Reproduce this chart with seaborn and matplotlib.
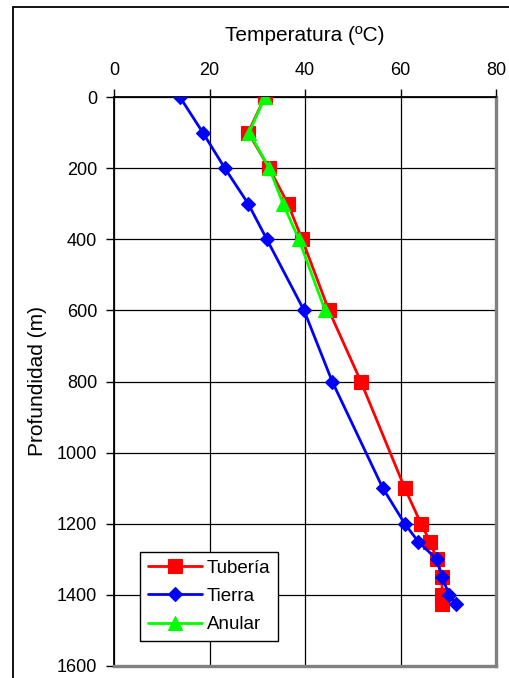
import matplotlib
matplotlib.use("Agg")
import matplotlib.pyplot as plt
from matplotlib.patches import Rectangle
import pandas as pd
import seaborn as sns

# Temperature profiles (ºC) against depth (m)
tuberia_prof = [0, 100, 200, 300, 400, 600, 800, 1100, 1200, 1250, 1300, 1350, 1400, 1425]
tuberia_temp = [31.6, 28.1, 32.5, 36.4, 39.4, 45.0, 51.7, 60.9, 64.3, 66.2, 67.6, 68.7, 68.7, 68.7]

tierra_prof = [0, 100, 200, 300, 400, 600, 800, 1100, 1200, 1250, 1300, 1350, 1400, 1425]
tierra_temp = [13.8, 18.6, 23.2, 28.1, 32.0, 39.8, 45.7, 56.3, 60.9, 63.7, 67.6, 68.7, 70.2, 71.6]

anular_prof = [0, 100, 200, 300, 400, 600]
anular_temp = [31.6, 28.3, 32.5, 35.4, 38.7, 44.2]

series = [
    ("Tubería", tuberia_temp, tuberia_prof, "#ff0000", "s", 10),
    ("Tierra", tierra_temp, tierra_prof, "#0000ff", "D", 7.5),
    ("Anular", anular_temp, anular_prof, "#00ff00", "^", 9.5),
]

x_ticks = [0, 20, 40, 60, 80]
y_ticks = [0, 200, 400, 600, 800, 1000, 1200, 1400, 1600]

sns.set_theme(style="white")
plt.rcParams["font.family"] = ["Liberation Sans", "DejaVu Sans"]
plt.rcParams["font.size"] = 13
for key in ("text.color", "axes.labelcolor", "xtick.color", "ytick.color",
            "xtick.labelcolor", "ytick.labelcolor"):
    plt.rcParams[key] = "black"

W, H = 509, 678
fig = plt.figure(figsize=(W / 100, H / 100), dpi=100)
ax = fig.add_axes([114 / W, 1 - 666 / H, (496 - 114) / W, (666 - 97) / H])

for name, temp, prof, color, marker, ms in series:
    df = pd.DataFrame({"Temperatura": temp, "Profundidad": prof})
    sns.lineplot(data=df, x="Temperatura", y="Profundidad", sort=False,
                 estimator=None, color=color, marker=marker, markersize=ms,
                 markeredgecolor=color, markeredgewidth=0.8, linewidth=2.0,
                 label=name, ax=ax, zorder=3)

ax.set_xlim(0, 80)
ax.set_ylim(1600, 0)
ax.set_xticks(x_ticks)
ax.set_yticks(y_ticks)
ax.xaxis.set_ticks_position("top")
ax.xaxis.set_label_position("top")
ax.tick_params(axis="both", which="major", direction="out", length=6,
               width=1, color="black", labelcolor="black", labelsize=13, pad=4)
ax.tick_params(axis="x", top=True, bottom=False, labeltop=True,
               labelbottom=False, pad=7)
ax.tick_params(axis="y", left=True, pad=6)

ax.grid(True, color="black", linewidth=0.9, zorder=0)
ax.set_axisbelow(True)

ax.set_xlabel("Temperatura (ºC)", fontsize=15, labelpad=15, color="black")
ax.set_ylabel("Profundidad (m)", fontsize=15, labelpad=7, color="black")

for side in ("top", "left"):
    ax.spines[side].set_color("black")
    ax.spines[side].set_linewidth(1.3)
for side in ("right", "bottom"):
    ax.spines[side].set_color("#808080")
    ax.spines[side].set_linewidth(2.4)

leg = ax.legend(loc="upper left", bbox_to_anchor=((140 - 114) / (496 - 114), 1 - (552 - 97) / (666 - 97)),
                frameon=True, fancybox=False, framealpha=1, edgecolor="black",
                fontsize=13.5, handlelength=2.9, handletextpad=0.25,
                borderpad=0.4, labelspacing=0.6, borderaxespad=0)
leg.get_frame().set_linewidth(1.0)
for txt in leg.get_texts():
    txt.set_color("black")

# Outer frame of the chart area
fig.patches.append(Rectangle((13 / W, -0.05), 1.2, 1 - 7 / H + 0.05,
                             transform=fig.transFigure, fill=False,
                             edgecolor="black", linewidth=1.3))

fig.savefig("out.png", dpi=100)
